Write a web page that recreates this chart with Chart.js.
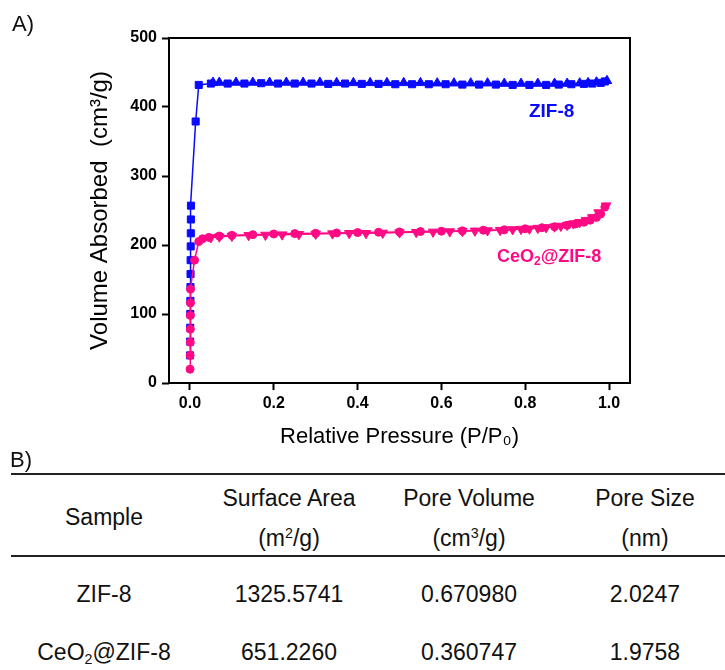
<!DOCTYPE html>
<html>
<head>
<meta charset="utf-8">
<script src="https://cdn.jsdelivr.net/npm/chart.js@4/dist/chart.umd.min.js"></script>
<style>
  body { margin: 0; background: #fff; }
  #wrap { position: relative; width: 725px; height: 670px; font-family: 'Liberation Sans', Arial, sans-serif; color: #111; }
  #chart { position: absolute; left: 0; top: 0; }
  .lbl { position: absolute; font-size: 22px; line-height: 26px; }
  .cell { position: absolute; width: 220px; text-align: center; font-size: 23px; line-height: 26px; white-space: nowrap; }
  .cell sup { font-size: 0.62em; vertical-align: 0.55em; line-height: 0; }
  .cell sub { font-size: 0.62em; vertical-align: -0.3em; line-height: 0; }
  .rule { position: absolute; left: 11px; width: 714px; height: 2px; background: #222; }
</style>
</head>
<body>
<div id="wrap">
  <canvas id="chart" width="725" height="450"></canvas>
  <div class="lbl" style="left:12px; top:11px;">A)</div>
  <div class="lbl" style="left:10px; top:447px;">B)</div>
  <div class="rule" style="top:473px;"></div>
  <div class="rule" style="top:555px;"></div>
  <div id="table"></div>
</div>
<script>
// ZIF-8 adsorption (squares)
const zifAdsP = [0.0002, 0.0004, 0.0006, 0.0008, 0.001, 0.0012, 0.0014, 0.0016, 0.0018, 0.002, 0.0022, 0.0024,
  0.0136, 0.021, 0.05, 0.09, 0.13, 0.17, 0.21, 0.25, 0.29, 0.33, 0.37, 0.41, 0.45, 0.49, 0.53, 0.57, 0.61,
  0.65, 0.69, 0.73, 0.77, 0.81, 0.85, 0.88, 0.91, 0.94, 0.96, 0.98, 0.99];
const zifAdsV = [40, 60, 80, 100, 119, 139, 158, 178, 198, 217, 237, 257,
  379, 432, 434, 434, 434, 434.5, 434, 434, 434, 433.5, 434, 433.5, 433.5, 433, 433, 433, 433,
  432.5, 432.5, 432.5, 432, 432, 432, 432.5, 433, 433.5, 434, 435, 437];
// ZIF-8 desorption (triangles)
const zifDesP = [0.995, 0.97, 0.95, 0.93, 0.9, 0.87, 0.83, 0.79, 0.75, 0.71, 0.67, 0.63, 0.59, 0.55,
  0.51, 0.47, 0.43, 0.39, 0.35, 0.31, 0.27, 0.23, 0.19, 0.15, 0.11, 0.07, 0.055];
const zifDesV = [438, 436, 435, 434.5, 434, 434, 434, 434, 434, 434.5, 434.5, 434.5, 434.5, 435,
  435, 435, 435, 435, 435, 435.5, 435.5, 435.5, 435.5, 435.5, 435.5, 435.5, 435.5];
// CeO2@ZIF-8 adsorption (circles)
const ceAdsP = [0.0002, 0.0004, 0.0006, 0.0008, 0.001, 0.0012, 0.0014, 0.011, 0.021, 0.03, 0.045, 0.07,
  0.1, 0.15, 0.2, 0.25, 0.3, 0.35, 0.4, 0.45, 0.5, 0.55, 0.6, 0.65, 0.7, 0.75, 0.8, 0.84, 0.87, 0.9,
  0.92, 0.94, 0.955, 0.97, 0.98, 0.99];
const ceAdsV = [20, 40, 59, 78, 98, 116, 136, 178, 205, 209, 211, 213,
  214, 215, 216, 216.5, 217, 217.5, 218, 218.5, 219, 219.5, 220, 220.5, 221.5, 222, 223.5, 225, 226.5, 228.5,
  230.5, 233, 236, 240, 245, 255];
// CeO2@ZIF-8 desorption (down triangles)
const ceDesP = [0.993, 0.975, 0.96, 0.945, 0.93, 0.915, 0.9, 0.885, 0.87, 0.85, 0.83, 0.81, 0.79, 0.77,
  0.74, 0.71, 0.68, 0.65, 0.62, 0.58, 0.54, 0.5, 0.46, 0.42, 0.38, 0.34, 0.3, 0.26, 0.22, 0.18, 0.14,
  0.1, 0.07, 0.05];
const ceDesV = [257, 247, 240, 236, 233, 231, 229, 227.5, 226.5, 225.5, 224.5, 223.5, 223, 222.5,
  221.5, 221, 220.5, 220, 219.5, 219, 218.5, 218, 217.5, 217, 217, 216.5, 216, 215.5, 215, 214.5, 214,
  213, 212, 211];

const xTicks = [0, 0.2, 0.4, 0.6, 0.8, 1.0];
const yTicks = [0, 100, 200, 300, 400, 500];

// table B
const tableHead = ['Sample', 'Surface Area', 'Pore Volume', 'Pore Size'];
const tableUnits = ['', '(m<sup>2</sup>/g)', '(cm<sup>3</sup>/g)', '(nm)'];
const samples = ['ZIF-8', 'CeO<sub>2</sub>@ZIF-8'];
const surfaceArea = ['1325.5741', '651.2260'];
const poreVolume = ['0.670980', '0.360747'];
const poreSize = ['2.0247', '1.9758'];

const blue = '#0a0aff';
const pink = '#ff0a84';
const FONT = "'Liberation Sans', Arial, sans-serif";

const pts = (xs, ys) => xs.map((x, i) => ({ x: x, y: ys[i] }));

function series(label, xs, ys, color, style, radius, rotation) {
  return {
    label: label,
    data: pts(xs, ys),
    borderColor: color,
    backgroundColor: color,
    borderWidth: 1.5,
    pointStyle: style,
    pointRadius: radius,
    pointRotation: rotation || 0,
    pointBorderWidth: 1,
    pointBorderColor: color,
    pointBackgroundColor: color,
    tension: 0,
    fill: false
  };
}

// box around plot + in-plot labels
const framePlugin = {
  id: 'frame',
  afterDatasetsDraw(chart) {
    const { ctx, chartArea: a, scales } = chart;
    ctx.save();
    ctx.strokeStyle = '#000';
    ctx.lineWidth = 2;
    ctx.strokeRect(a.left, a.top, a.right - a.left, a.bottom - a.top);

    ctx.textBaseline = 'middle';
    ctx.font = 'bold 19px ' + FONT;
    ctx.fillStyle = blue;
    ctx.textAlign = 'center';
    ctx.fillText('ZIF-8', scales.x.getPixelForValue(0.863), scales.y.getPixelForValue(393));

    // CeO2@ZIF-8 with a drawn subscript
    const cx = scales.x.getPixelForValue(0.857);
    const cy = scales.y.getPixelForValue(183);
    ctx.fillStyle = pink;
    ctx.textAlign = 'left';
    const big = 'bold 18px ' + FONT, small = 'bold 12px ' + FONT;
    ctx.font = big; const w1 = ctx.measureText('CeO').width; const w3 = ctx.measureText('@ZIF-8').width;
    ctx.font = small; const w2 = ctx.measureText('2').width;
    let x0 = cx - (w1 + w2 + w3) / 2;
    ctx.font = big; ctx.fillText('CeO', x0, cy);
    ctx.font = small; ctx.fillText('2', x0 + w1, cy + 5);
    ctx.font = big; ctx.fillText('@ZIF-8', x0 + w1 + w2, cy);
    ctx.restore();
  }
};

const tickFont = { family: FONT, size: 16, weight: 'bold' };

new Chart(document.getElementById('chart'), {
  type: 'line',
  data: {
    datasets: [
      series('CeO2@ZIF-8 ads', ceAdsP, ceAdsV, pink, 'circle', 4),
      series('CeO2@ZIF-8 des', ceDesP, ceDesV, pink, 'triangle', 5.5, 180),
      series('ZIF-8 ads', zifAdsP, zifAdsV, blue, 'rect', 5),
      series('ZIF-8 des', zifDesP, zifDesV, blue, 'triangle', 5.5)
    ]
  },
  options: {
    responsive: false,
    animation: false,
    layout: { padding: { top: 38, right: 95, left: 0, bottom: 0 } },
    plugins: { legend: { display: false }, tooltip: { enabled: false } },
    scales: {
      x: {
        type: 'linear',
        min: -0.05,
        max: 1.05,
        afterBuildTicks: axis => { axis.ticks = xTicks.map(v => ({ value: v })); },
        afterFit: scale => { scale.height = 67; },
        grid: { drawOnChartArea: false, tickLength: 7, tickWidth: 2, tickColor: '#000' },
        border: { display: false },
        ticks: { color: '#000', font: tickFont, padding: 4, maxRotation: 0, callback: v => v.toFixed(1) },
        title: {
          display: true, text: 'Relative Pressure (P/P\u2080)', color: '#000',
          font: { family: FONT, size: 22 }, padding: { top: 7, bottom: 0 }
        }
      },
      y: {
        min: 0,
        max: 500,
        afterBuildTicks: axis => { axis.ticks = yTicks.map(v => ({ value: v })); },
        afterFit: scale => { scale.width = 169; },
        grid: { drawOnChartArea: false, tickLength: 7, tickWidth: 2, tickColor: '#000' },
        border: { display: false },
        ticks: { color: '#000', font: tickFont, padding: 5 },
        title: {
          display: true, text: 'Volume Absorbed  (cm\u00b3/g)', color: '#000',
          font: { family: FONT, size: 24 }, padding: { top: 86, bottom: 0 }
        }
      }
    }
  },
  plugins: [framePlugin]
});

// table B as positioned text
const colX = [104, 289, 469, 645];
const table = document.getElementById('table');
function cell(html, cx, cy) {
  const d = document.createElement('div');
  d.className = 'cell';
  d.innerHTML = html;
  d.style.left = (cx - 110) + 'px';
  d.style.top = (cy - 13) + 'px';
  table.appendChild(d);
}
cell(tableHead[0], colX[0], 517);
for (let i = 1; i < 4; i++) {
  cell(tableHead[i], colX[i], 498);
  cell(tableUnits[i], colX[i], 538);
}
const rowY = [594, 652];
samples.forEach((s, r) => {
  cell(s, colX[0], rowY[r]);
  cell(surfaceArea[r], colX[1], rowY[r]);
  cell(poreVolume[r], colX[2], rowY[r]);
  cell(poreSize[r], colX[3], rowY[r]);
});
</script>
</body>
</html>
